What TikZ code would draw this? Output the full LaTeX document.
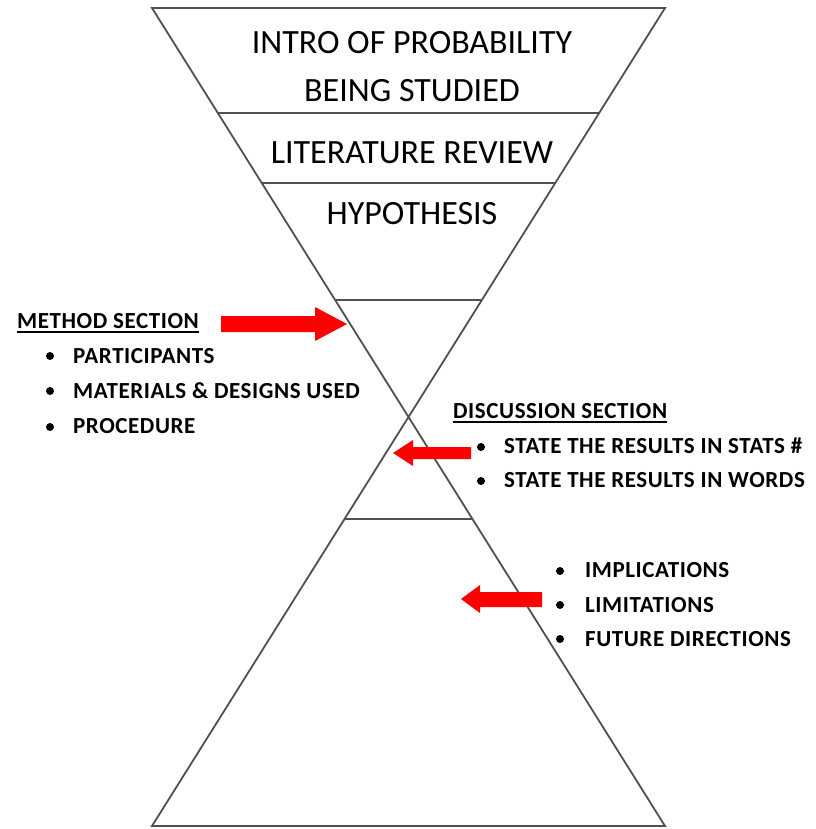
\documentclass[tikz,border=0pt]{standalone}
\usepackage{fontspec}
\setmainfont{Carlito}
\usetikzlibrary{calc}
\definecolor{hgline}{RGB}{80,80,80}
\definecolor{arrred}{RGB}{255,0,0}
\tikzset{
  hg/.style={draw=hgline, line width=1.8pt, line join=miter},
  divider/.style={draw=hgline, line width=1.5pt},
  title/.style={inner sep=0pt, anchor=base, font=\fontsize{34}{36}\selectfont},
  head/.style={inner sep=0pt, anchor=base west, font=\fontsize{23}{26}\selectfont\bfseries\addfontfeatures{LetterSpace=2.5}},
  item/.style={inner sep=0pt, anchor=base west, font=\fontsize{23}{26}\selectfont\bfseries\addfontfeatures{LetterSpace=2.5}},
  bullet/.style={circle, fill=black, inner sep=0pt, minimum size=8pt},
  redarrow/.style={fill=arrred, draw=none},
  uline/.style={draw=black, line width=1.8pt}
}
\begin{document}
\begin{tikzpicture}[x=1pt,y=-1pt]
\useasboundingbox (0,0) rectangle (815,829);
% hourglass
\coordinate (tl) at (152,8);
\coordinate (tr) at (665,8);
\coordinate (bl) at (152,826);
\coordinate (br) at (665,826);
\draw[hg] (tl) -- (tr) -- (bl) -- (br) -- cycle;
% dividers
\draw[divider] (218,113) -- (599,113);
\draw[divider] (262,183) -- (555,183);
\draw[divider] (335.6,300) -- (481.4,300);
\draw[divider] (343.7,519) -- (473.3,519);
% titles
\node[title] (t1) at (412,54) {INTRO OF PROBABILITY};
\node[title] (t2) at (412,102) {BEING STUDIED};
\node[title] (t3) at (412,164) {LITERATURE REVIEW};
\node[title] (t4) at (412,224) {HYPOTHESIS};
% method section
\node[head] (msec) at (17,328) {METHOD SECTION};
\draw[uline] ([yshift=-4]msec.base west) -- ([yshift=-4]msec.base east);
\node[bullet] (mb1) at (50,356) {};
\node[item] (m1) at (73,363) {PARTICIPANTS};
\node[bullet] (mb2) at (50,391) {};
\node[item] (m2) at (73,398) {MATERIALS \& DESIGNS USED};
\node[bullet] (mb3) at (50,427) {};
\node[item] (m3) at (73,433) {PROCEDURE};
% discussion section
\node[head] (dsec) at (453,418) {DISCUSSION SECTION};
\draw[uline] ([yshift=-4]dsec.base west) -- ([yshift=-4]dsec.base east);
\node[bullet] (db1) at (481,447) {};
\node[item] (d1) at (504,453) {STATE THE RESULTS IN STATS \#};
\node[bullet] (db2) at (481,481) {};
\node[item] (d2) at (504,487) {STATE THE RESULTS IN WORDS};
% final list
\node[bullet] (fb1) at (560,571) {};
\node[item] (f1) at (585,577) {IMPLICATIONS};
\node[bullet] (fb2) at (560,605) {};
\node[item] (f2) at (585,612) {LIMITATIONS};
\node[bullet] (fb3) at (560,639) {};
\node[item] (f3) at (585,646) {FUTURE DIRECTIONS};
% arrows
\fill[redarrow] (221,316) -- (315,316) -- (315,307) -- (347,324) -- (315,341) -- (315,332) -- (221,332) -- cycle;
\fill[redarrow] (471,447) -- (413,447) -- (413,440) -- (393,453) -- (413,466) -- (413,459) -- (471,459) -- cycle;
\fill[redarrow] (542,592) -- (480,592) -- (480,585) -- (461,599) -- (480,613) -- (480,607) -- (542,607) -- cycle;
\end{tikzpicture}
\end{document}
